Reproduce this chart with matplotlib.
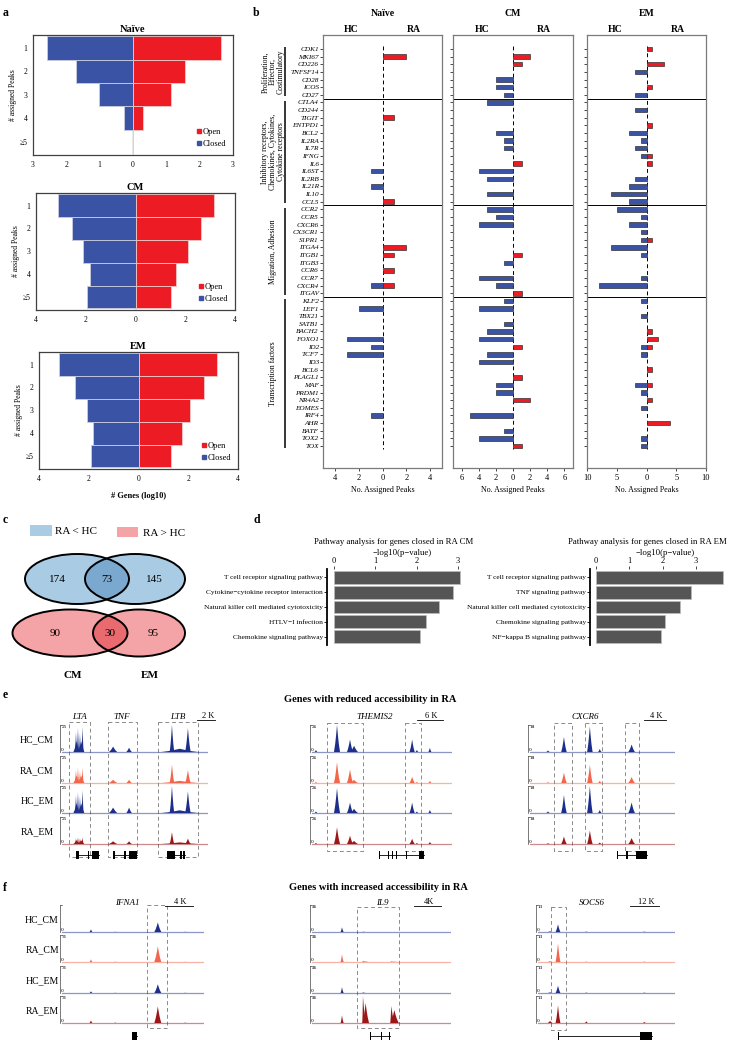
import matplotlib
matplotlib.use("Agg")
import matplotlib.pyplot as plt
from matplotlib.patches import Ellipse, Rectangle
from matplotlib.lines import Line2D

plt.rcParams["font.family"] = ["Liberation Serif", "DejaVu Serif"]

W, H = 729, 1041
BLUE = "#3a53a4"
RED = "#ed1c24"

# ---------------- data ----------------
# panel a: log10 number of genes per number of assigned peaks
peak_bins = ["1", "2", "3", "4", "\u22655"]
naive_closed = [2.58, 1.72, 1.02, 0.28, 0]
naive_open = [2.63, 1.56, 1.14, 0.30, 0]
cm_closed = [3.13, 2.56, 2.13, 1.83, 1.95]
cm_open = [3.16, 2.64, 2.13, 1.64, 1.43]
em_closed = [3.18, 2.56, 2.09, 1.82, 1.90]
em_open = [3.16, 2.63, 2.09, 1.76, 1.31]

# panel b: genes and number of assigned peaks (HC higher / RA higher)
genes = ["CDK1", "MKI67", "CD226", "TNFSF14", "CD28", "ICOS", "CD27",
         "CTLA4", "CD244", "TIGIT", "ENTPD1", "BCL2", "IL2RA", "IL7R", "IFNG",
         "IL6", "IL6ST", "IL2RB", "IL21R", "IL10", "CCL5",
         "CCR2", "CCR5", "CXCR6", "CX3CR1", "S1PR1", "ITGA4", "ITGB1", "ITGB3",
         "CCR6", "CCR7", "CXCR4", "ITGAV",
         "KLF2", "LEF1", "TBX21", "SATB1", "BACH2", "FOXO1", "ID2", "TCF7", "ID3",
         "BCL6", "PLAGL1", "MAF", "PRDM1", "NR4A2", "EOMES", "IRF4", "AHR", "BATF",
         "TOX2", "TOX"]
group_sizes = [7, 14, 12, 20]
group_names = ["Proliferation,\nEffector,\nCostimulatory",
               "Inhibitory receptors,\nChemokines, Cytokines,\nCytokine receptors",
               "Migration, Adhesion", "Transcription factors"]

naive_hc = ([0, 0, 0, 0, 0, 0, 0]
            + [0, 0, 0, 0, 0, 0, 0, 0, 0, 1, 0, 1, 0, 0]
            + [0, 0, 0, 0, 0, 0, 0, 0, 0, 0, 1, 0]
            + [0, 2, 0, 0, 0, 3, 1, 3, 0, 0, 0, 0, 0, 0, 0, 1, 0, 0, 0, 0])
naive_ra = ([0, 2, 0, 0, 0, 0, 0]
            + [0, 0, 1, 0, 0, 0, 0, 0, 0, 0, 0, 0, 0, 1]
            + [0, 0, 0, 0, 0, 2, 1, 0, 1, 0, 1, 0]
            + [0] * 20)
cm_hc = ([0, 0, 0, 0, 2, 2, 1]
         + [3, 0, 0, 0, 2, 1, 1, 0, 0, 4, 3, 0, 3, 0]
         + [3, 2, 4, 0, 0, 0, 0, 1, 0, 4, 2, 0]
         + [1, 4, 0, 1, 3, 4, 0, 3, 4, 0, 0, 2, 2, 0, 0, 5, 0, 1, 4, 0])
cm_ra = ([0, 2, 1, 0, 0, 0, 0]
         + [0, 0, 0, 0, 0, 0, 0, 0, 1, 0, 0, 0, 0, 0]
         + [0, 0, 0, 0, 0, 0, 1, 0, 0, 0, 0, 1]
         + [0, 0, 0, 0, 0, 0, 1, 0, 0, 0, 1, 0, 0, 2, 0, 0, 0, 0, 0, 1])
em_hc = ([0, 0, 0, 2, 0, 0, 2]
         + [0, 2, 0, 0, 3, 1, 2, 1, 0, 0, 2, 3, 6, 3]
         + [5, 1, 3, 1, 1, 6, 1, 0, 0, 1, 8, 0]
         + [1, 0, 1, 0, 0, 0, 1, 1, 0, 0, 0, 2, 1, 0, 1, 0, 0, 0, 1, 1])
em_ra = ([1, 0, 3, 0, 0, 1, 0]
         + [0, 0, 0, 1, 0, 0, 0, 1, 1, 0, 0, 0, 0, 0]
         + [0, 0, 0, 0, 1, 0, 0, 0, 0, 0, 0, 0]
         + [0, 0, 0, 0, 1, 2, 1, 0, 0, 1, 0, 1, 0, 1, 0, 0, 4, 0, 0, 0])

# panel c: Venn counts (only CM, shared, only EM)
venn_closed = [174, 73, 145]
venn_open = [90, 30, 95]

# panel d: pathway enrichment, -log10(p)
cm_pathways = ["T cell receptor signaling pathway", "Cytokine\u2212cytokine receptor interaction",
               "Natural killer cell mediated cytotoxicity", "HTLV\u2212I infection",
               "Chemokine signaling pathway"]
cm_logp = [3.05, 2.87, 2.54, 2.22, 2.08]
em_pathways = ["T cell receptor signaling pathway", "TNF signaling pathway",
               "Natural killer cell mediated cytotoxicity", "Chemokine signaling pathway",
               "NF\u2212kappa B signaling pathway"]
em_logp = [3.80, 2.85, 2.52, 2.07, 1.94]

# panels e/f: ATAC peaks (position kb, left/right half width kb, height per track)
track_names = ["HC_CM", "RA_CM", "HC_EM", "RA_EM"]
track_colors = ["#1d2f8a", "#f2664b", "#1d2f8a", "#9c1717"]

lta_pos = [1.6, 2.1, 1.53, 1.75, 1.97, 2.25, 5.6, 7.35, 12.9, 12.05, 13.8]
lta_w = [0.35, 0.35, 0.12, 0.12, 0.12, 0.12, 0.45, 0.3, 2.0, 0.25, 0.3]
lta_h = {"HC_CM": [10, 10, 18, 22, 17, 23, 5, 4, 3, 25, 22],
         "RA_CM": [7, 7, 12, 14, 11, 14, 3, 3, 2, 17, 12],
         "HC_EM": [9, 9, 16, 19, 15, 21, 5, 5, 2.5, 25, 20],
         "RA_EM": [3.5, 3.5, 5, 6, 5, 6, 2.5, 2.5, 1.5, 11, 5]}

themis_pos = [0.92, 5.77, 8.77, 9.7, 23.1, 24.2, 27.2]
themis_w = [0.3, 0.7, 0.7, 0.9, 0.6, 0.3, 0.35]
themis_h = {"HC_CM": [2, 26, 12, 6, 12, 2, 4],
            "RA_CM": [1, 20, 13, 3, 6, 1, 2],
            "HC_EM": [1.5, 24, 10, 4, 10, 1.5, 3],
            "RA_EM": [1, 16, 8, 3, 5, 1, 2]}

cxcr6_pos = [3.27, 6.18, 10.9, 12.7, 18.5]
cxcr6_w = [0.3, 0.5, 0.5, 0.3, 0.6]
cxcr6_h = {"HC_CM": [1, 10, 17, 2, 5],
           "RA_CM": [0.5, 7, 12, 1.5, 4],
           "HC_EM": [1, 12, 18, 2, 7],
           "RA_EM": [0.5, 5, 9, 1, 4]}

ifna1_pos = [4.14, 7.6, 13.7, 17.6]
ifna1_w = [0.2, 0.1, 0.5, 0.1]
ifna1_h = {"HC_CM": [3, 0.5, 11, 0.5],
           "RA_CM": [3, 0.8, 18, 0.5],
           "HC_EM": [2, 0.5, 10, 0.5],
           "RA_EM": [3, 0.8, 19, 0.8]}

il9_pos = [4.44, 7.55, 7.95, 11.75, 12.2]
il9_wl = [0.2, 0.1, 0.45, 0.15, 0.55]
il9_wr = [0.25, 0.4, 0.5, 0.45, 0.65]
il9_h = {"HC_CM": [8, 0.5, 0, 0, 0],
         "RA_CM": [13, 2, 1, 1, 0.5],
         "HC_EM": [10, 1, 0, 0, 0],
         "RA_EM": [13, 46, 34, 29, 22]}

socs6_pos = [5.0, 8.28, 20.0, 44.0]
socs6_w = [1.0, 1.0, 0.6, 0.6]
socs6_h = {"HC_CM": [0.3, 3.7, 0.2, 0.2],
           "RA_CM": [0.4, 9, 0.2, 0.2],
           "HC_EM": [0.3, 3.5, 0.2, 0.2],
           "RA_EM": [1, 8.5, 0.8, 0.5]}

# gene models: (start, end, exons)
lta_genes = [(1.5, 4.0, [(1.5, 1.9), (2.8, 3.0), (3.3, 4.0)]),
             (5.6, 8.2, [(5.6, 5.8), (6.8, 7.0), (7.3, 8.2)]),
             (11.5, 13.5, [(11.5, 12.4), (12.9, 13.1), (13.3, 13.5)])]
themis_genes = [(15.5, 25.9, [(15.5, 15.7), (17.5, 17.7), (18.4, 18.6), (19.3, 19.5),
                              (21.8, 22.0), (24.6, 25.9)])]
cxcr6_genes = [(15.8, 21.3, [(15.8, 16.0), (17.4, 17.8), (19.3, 21.3)])]
ifna1_genes = [(10.0, 10.7, [(10.0, 10.7)])]
il9_genes = [(8.6, 11.5, [(8.6, 8.75), (10.2, 10.35), (11.35, 11.5)])]
socs6_genes = [(8.3, 47.2, [(8.3, 8.6), (32.6, 32.9), (42.2, 47.2)])]

# ---------------- figure ----------------
fig = plt.figure(figsize=(W / 100, H / 100), dpi=100)


def axpx(x0, y0, x1, y1):
    return fig.add_axes([x0 / W, 1 - y1 / H, (x1 - x0) / W, (y1 - y0) / H])


def ftext(x, y, s, **kw):
    fig.text(x / W, 1 - y / H, s, **kw)


for lab, x, y in [("a", 3, 13), ("b", 253, 13), ("c", 3, 520), ("d", 254, 520),
                  ("e", 3, 695), ("f", 3, 888)]:
    ftext(x, y, lab, fontsize=8.5, fontweight="bold", va="center")


# ---- panel a ----
def pyramid(box, title, closed, opened, lim, ticks, xlabel=None):
    ax = axpx(*box)
    y = list(range(len(peak_bins)))
    ax.axvline(0, color="#e4e4e4", lw=1.2, zorder=0)
    ax.barh(y, [-v for v in closed], height=1, color=BLUE, edgecolor="#c9cde0", lw=0.6)
    ax.barh(y, opened, height=1, color=RED, edgecolor="#f2c9c9", lw=0.6)
    ax.set_xlim(-lim, lim)
    ax.set_ylim(4.57, -0.55)
    ax.set_yticks(y)
    ax.set_yticklabels(peak_bins)
    ax.set_xticks(ticks)
    ax.set_xticklabels([str(abs(t)) for t in ticks])
    ax.tick_params(length=0, labelsize=5.5, pad=4)
    for s in ax.spines.values():
        s.set_color("#404040")
        s.set_linewidth(0.9)
    ax.set_title(title, fontweight="bold", fontsize=7.5, pad=2)
    ax.set_ylabel("# assigned Peaks", fontsize=5.5, labelpad=2)
    handles = [Line2D([], [], marker="s", ls="", color=RED, markersize=2.5, label="Open"),
               Line2D([], [], marker="s", ls="", color=BLUE, markersize=2.5, label="Closed")]
    ax.legend(handles=handles, loc="lower right", frameon=False, fontsize=6,
              handletextpad=0.1, handlelength=0.8, labelspacing=0.5, borderaxespad=0.4)
    if xlabel:
        ax.set_xlabel(xlabel, fontsize=6, fontweight="bold", labelpad=7)


pyramid((33, 35, 233, 155), "Na\u00efve", naive_closed, naive_open, 3, [-3, -2, -1, 0, 1, 2, 3])
pyramid((36, 193, 235, 310), "CM", cm_closed, cm_open, 4, [-4, -2, 0, 2, 4])
pyramid((39, 352, 238, 469), "EM", em_closed, em_open, 4, [-4, -2, 0, 2, 4], "# Genes (log10)")

# ---- panel b ----
n = len(genes)
ylim_b = (n - 1 + 2.88, -1.83)


def peaks_col(box, hc, ra, lim, ticks, title, show_labels):
    ax = axpx(*box)
    hi = [i for i, v in enumerate(hc) if v]
    ri = [i for i, v in enumerate(ra) if v]
    ax.barh(hi, [-hc[i] for i in hi], height=0.58, color=BLUE, edgecolor="#333333", lw=0.5, zorder=3)
    ax.barh(ri, [ra[i] for i in ri], height=0.58, color=RED, edgecolor="#333333", lw=0.5, zorder=3)
    ax.vlines(0, -0.4, n - 0.6, colors="black", linestyles=(0, (4, 3)), lw=0.7, zorder=2)
    b = 0
    for g in group_sizes[:-1]:
        b += g
        ax.axhline(b - 0.5, color="black", lw=0.7)
    ax.set_xlim(-lim, lim)
    ax.set_ylim(*ylim_b)
    ax.set_yticks(range(n))
    if show_labels:
        ax.set_yticklabels(genes, fontsize=5.2, fontstyle="italic")
    else:
        ax.set_yticklabels([])
    ax.set_xticks(ticks)
    ax.set_xticklabels([str(abs(t)) for t in ticks])
    ax.tick_params(axis="y", length=2, width=0.5, pad=1)
    ax.tick_params(axis="x", length=2.5, width=0.5, labelsize=6, pad=2)
    for s in ax.spines.values():
        s.set_color("#7a7a7a")
        s.set_linewidth(0.9)
    ax.set_xlabel("No. Assigned Peaks", fontsize=5.8, labelpad=3)
    cx = (box[0] + box[2]) / 2
    ftext(cx, 14, title, fontsize=7, fontweight="bold", ha="center", va="center")
    ftext(box[0] + 0.24 * (box[2] - box[0]), 29, "HC", fontsize=7, fontweight="bold", ha="center", va="center")
    ftext(box[0] + 0.76 * (box[2] - box[0]), 29, "RA", fontsize=7, fontweight="bold", ha="center", va="center")
    return ax


peaks_col((323, 35, 442, 468), naive_hc, naive_ra, 5, [-4, -2, 0, 2, 4], "Na\u00efve", True)
peaks_col((453, 35, 573, 468), cm_hc, cm_ra, 7, [-6, -4, -2, 0, 2, 4, 6], "CM", False)
peaks_col((587, 35, 706, 468), em_hc, em_ra, 10, [-10, -5, 0, 5, 10], "EM", False)

gax = axpx(250, 35, 290, 468)
gax.set_xlim(0, 40)
gax.set_ylim(*ylim_b)
gax.axis("off")
start = 0
for g, name in zip(group_sizes, group_names):
    gax.vlines(35, start - 0.2, start + g - 0.8, colors="black", lw=1.1)
    gax.text(23, start + (g - 1) / 2, name, rotation=90, ha="center", va="center",
             fontsize=5.6, multialignment="center", linespacing=0.95)
    start += g

# ---- panel c ----
vax = axpx(0, 515, 240, 690)
vax.set_xlim(0, 240)
vax.set_ylim(690, 515)
vax.axis("off")
vax.add_patch(Rectangle((30, 525), 22, 11, color="#a9cbe4", lw=0))
vax.text(55, 531, "RA < HC", fontsize=8, va="center")
vax.add_patch(Rectangle((117, 527), 21, 10, color="#f4a3a6", lw=0))
vax.text(143, 533, "RA > HC", fontsize=8, va="center")


def venn(cy, cl, wl, cr, wr, h, light, dark, counts):
    e1 = Ellipse((cl, cy), wl, h, fc=light, ec="none")
    e2 = Ellipse((cr, cy), wr, h, fc=light, ec="none")
    vax.add_patch(e1)
    vax.add_patch(e2)
    e3 = Ellipse((cr, cy), wr, h, fc=dark, ec="none")
    vax.add_patch(e3)
    e3.set_clip_path(e1)
    for c, w in [(cl, wl), (cr, wr)]:
        vax.add_patch(Ellipse((c, cy), w, h, fill=False, ec="black", lw=1.4))
    left_edge, right_edge = cl - wl / 2, cr + wr / 2
    ov_l, ov_r = cr - wr / 2, cl + wl / 2
    xs = [(left_edge + ov_l) / 2 + 2, (ov_l + ov_r) / 2, (ov_r + right_edge) / 2 - 3]
    for x, v in zip(xs, counts):
        vax.text(x, cy, str(v), ha="center", va="center", fontsize=8)


venn(579, 77, 104, 135, 100, 50, "#a9cbe4", "#7ba8cf", venn_closed)
venn(633, 70, 115, 139, 92, 47, "#f4a3a6", "#ea6b6f", venn_open)
vax.text(73, 676, "CM", fontsize=8, fontweight="bold", ha="center", va="center")
vax.text(150, 676, "EM", fontsize=8, fontweight="bold", ha="center", va="center")


# ---- panel d ----
def pathway(box, names, vals, xlim, title, tx, sx):
    ax = axpx(*box)
    y = list(range(len(names)))
    ax.barh(y, vals, height=0.86, color="#555555", edgecolor="#bdbdbd", lw=0.5)
    ax.set_ylim(4.55, -0.55)
    ax.set_xlim(*xlim)
    ax.set_yticks(y)
    ax.set_yticklabels(names, fontsize=5.3)
    ax.xaxis.tick_top()
    ax.set_xticks([0, 1, 2, 3])
    ax.tick_params(axis="x", labelsize=6, length=2.5, width=0.5, pad=0.5)
    ax.tick_params(axis="y", length=2, width=0.6, pad=1)
    for s in ["top", "right", "bottom"]:
        ax.spines[s].set_visible(False)
    ax.spines["left"].set_linewidth(1.3)
    ftext(tx, 542, title, fontsize=6.3, ha="center", va="center")
    ftext(sx, 553, "\u2212log10(p\u2212value)", fontsize=6.3, ha="center", va="center")


pathway((327, 569, 475, 645), cm_pathways, cm_logp, (-0.17, 3.41),
        "Pathway analysis for genes closed in RA CM", 394, 402)
pathway((590, 569, 725, 645), em_pathways, em_logp, (-0.18, 3.87),
        "Pathway analysis for genes closed in RA EM", 647, 665)


# ---- panels e / f ----
TH = 27
# relative peak profile (offset as fraction of half width, height fraction)
shape_dx = [-1.0, -0.6, -0.3, 0.0, 0.3, 0.6, 1.0]
shape_fy = [0.0, 0.3, 0.62, 1.0, 0.62, 0.3, 0.0]


def locus(x0, x1, y0, y1, L, pos, wl, wr, heights, scale, baselines, boxes, box_y,
          genes_m, gene_y, labels, label_y, bar, top_labels=True):
    ax = axpx(x0, y0, x1, y1)
    ax.set_xlim(0, L)
    ax.set_ylim(y1, y0)
    ax.axis("off")
    xa = -0.012 * L
    for k, (name, base, col) in enumerate(zip(track_names, baselines, track_colors)):
        ax.plot([0, L], [base, base], color=col, lw=0.9, alpha=0.5)
        for p, a, b, h in zip(pos, wl, wr, heights[name]):
            if h <= 0:
                continue
            top = h / scale * TH
            xs = [p + d * (a if d < 0 else b) for d in shape_dx]
            ys = [base - f * top for f in shape_fy]
            ax.fill(xs, ys, color=col, lw=0)
        ax.plot([xa, xa], [base, base - TH], color="#444444", lw=0.5, clip_on=False)
        ax.plot([xa, xa + 0.01 * L], [base - TH, base - TH], color="#444444", lw=0.5, clip_on=False)
        if top_labels or k > 0:
            ax.text(xa + 0.008 * L, base - TH, str(scale), fontsize=3.8, va="top", ha="left")
        ax.text(xa + 0.002 * L, base, "0", fontsize=3.8, va="bottom", ha="left")
    for bx0, bx1 in boxes:
        ax.add_patch(Rectangle((bx0, box_y[0]), bx1 - bx0, box_y[1] - box_y[0], fill=False,
                               ec="#8a8a8a", lw=0.7, ls=(0, (4, 3)), clip_on=False))
    for gs, ge, exons in genes_m:
        ax.plot([gs, ge], [gene_y, gene_y], color="black", lw=0.6)
        for es, ee in exons:
            ax.add_patch(Rectangle((es, gene_y - 4), ee - es, 8, color="black", lw=0))
    for gx, gname in labels:
        ax.text(gx, label_y, gname, fontsize=6.5, fontstyle="italic", ha="center", va="center")
    bs, be, btxt = bar
    ax.plot([bs, be], [label_y + 3, label_y + 3], color="black", lw=0.6, clip_on=False)
    ax.text((bs + be) / 2 + 0.01 * L, label_y - 1, btxt, fontsize=6, ha="center", va="center")


e_base = [752, 783, 813, 844]
f_base = [932, 962, 993, 1023]
ftext(370, 699, "Genes with reduced accessibility in RA", fontsize=7.5, fontweight="bold",
      ha="center", va="center")
ftext(378, 887, "Genes with increased accessibility in RA", fontsize=7.5, fontweight="bold",
      ha="center", va="center")
for name, b in zip(track_names, e_base):
    ftext(37, b - 12, name, fontsize=7, ha="center", va="center")
for name, b in zip(track_names, f_base):
    ftext(42, b - 12, name, fontsize=7, ha="center", va="center")

locus(62, 208, 705, 862, 16.0, lta_pos, lta_w, lta_w, lta_h, 25, e_base,
      [(0.77, 3.07), (5.04, 8.22), (10.52, 14.9)], (722, 857), lta_genes, 855,
      [(1.97, "LTA"), (6.58, "TNF"), (12.7, "LTB")], 717, (14.8, 16.8, "2 K"))
locus(312, 452, 705, 862, 32.3, themis_pos, themis_w, themis_w, themis_h, 26, e_base,
      [(3.46, 11.77), (21.5, 25.2)], (723, 851), themis_genes, 855,
      [(14.5, "THEMIS2")], 717, (24.2, 30.2, "6 K"))
locus(530, 675, 705, 862, 26.4, cxcr6_pos, cxcr6_w, cxcr6_w, cxcr6_h, 18, e_base,
      [(4.36, 7.64), (10.0, 13.1), (17.3, 19.8)], (723, 851), cxcr6_genes, 855,
      [(10.0, "CXCR6")], 717, (20.7, 24.7, "4 K"))

locus(62, 204, 895, 1041, 20.3, ifna1_pos, ifna1_w, ifna1_w, ifna1_h, 31, f_base,
      [(12.1, 15.0)], (905, 1028), ifna1_genes, 1036,
      [(9.4, "IFNA1")], 903, (14.7, 18.7, "4 K"), top_labels=False)
locus(312, 451, 895, 1041, 20.6, il9_pos, il9_wl, il9_wr, il9_h, 46, f_base,
      [(6.66, 12.9)], (907, 1028), il9_genes, 1036,
      [(10.4, "IL9")], 903, (15.1, 19.1, "4K"))
locus(538, 675, 895, 1041, 56.7, socs6_pos, socs6_w, socs6_w, socs6_h, 13, f_base,
      [(5.38, 11.6)], (907, 1030), socs6_genes, 1036,
      [(22.4, "SOCS6")], 903, (38.1, 50.1, "12 K"))

fig.savefig("out.png", dpi=100)
